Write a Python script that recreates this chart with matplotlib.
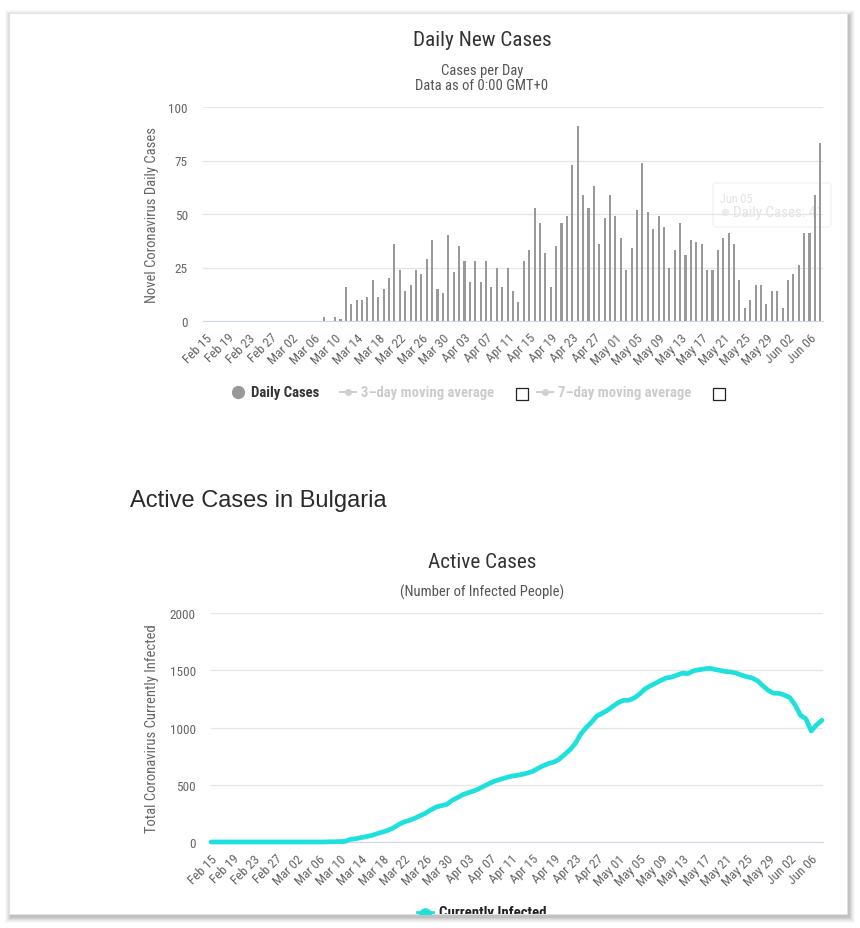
import matplotlib
matplotlib.use("Agg")
import matplotlib.pyplot as plt
from matplotlib.patches import Rectangle, FancyBboxPatch
import pandas as pd

# ---------------- data ----------------
start_date = "2020-02-15"
n_days = 115
dates = [d.strftime("%b %d") for d in pd.date_range(start_date, periods=n_days, freq="D")]

daily_cases = [0] * 22 + [
    2, 0, 2, 1, 16, 8, 10, 10, 11, 19, 11, 15, 20, 36, 24, 14, 17, 24, 22, 29,
    38, 15, 13, 40, 23, 35, 28, 18, 28, 18, 28, 16, 25, 16, 25, 14, 9, 28, 33, 53,
    46, 32, 16, 35, 46, 49, 73, 91, 59, 53, 63, 36, 48, 59, 49, 39, 24, 34, 52, 74,
    51, 43, 49, 44, 25, 33, 46, 31, 38, 37, 36, 24, 24, 33, 39, 41, 36, 19, 6, 10,
    17, 17, 8, 14, 14, 6, 19, 22, 26, 41, 41, 59, 83]

active_cases = [0] * 22 + [
    2, 2, 4, 5, 23, 29, 38, 47, 58, 73, 87, 102, 122, 152, 175, 189, 207, 230, 251, 280,
    306, 318, 329, 364, 388, 414, 431, 446, 466, 490, 513, 534, 548, 562, 575, 582, 591, 602, 617, 643,
    667, 687, 699, 725, 766, 807, 863, 944, 1000, 1047, 1102, 1126, 1152, 1187, 1219, 1240, 1240, 1260, 1295, 1339,
    1366, 1389, 1415, 1435, 1442, 1460, 1477, 1472, 1497, 1506, 1513, 1520, 1509, 1500, 1491, 1487, 1477, 1459, 1445, 1434,
    1409, 1365, 1325, 1301, 1300, 1285, 1263, 1198, 1108, 1078, 971, 1024, 1065]

daily_yticks = [0, 25, 50, 75, 100]
active_yticks = [0, 500, 1000, 1500, 2000]
tooltip_date = "Jun 05"
tooltip_value = 41

# ---------------- layout helpers ----------------
W, H = 860, 929
fig = plt.figure(figsize=(W / 100, H / 100), dpi=100)
fig.patch.set_facecolor("white")

NARROW = ["Roboto Condensed", "Liberation Sans"]
SANS = ["Liberation Sans", "DejaVu Sans"]
NS = dict(family=NARROW, fontstretch="condensed")
TICK_FS = 9.5
TITLE_FS = 15.3
SUB_FS = 10.5
AXLBL_FS = 10.5


def fx(x):
    return x / W


def fy(y):
    return 1 - y / H


def add_axes_px(x0, y0, x1, y1):
    return fig.add_axes([fx(x0), fy(y1), fx(x1) - fx(x0), fy(y0) - fy(y1)])


# card with soft shadow
bg = fig.add_axes([0, 0, 1, 1], zorder=-10)
bg.set_xlim(0, W)
bg.set_ylim(H, 0)
bg.axis("off")
for i, a in enumerate([0.025, 0.03, 0.035, 0.045, 0.055, 0.07]):
    d = 6 - i
    bg.add_patch(Rectangle((9 - d + 2, 14 - d + 3), 838 + 2 * d, 901 + 2 * d,
                           facecolor="#000000", alpha=a, edgecolor="none"))
bg.add_patch(Rectangle((9, 14), 838, 901, facecolor="white", edgecolor="#e0e0e0", lw=0.5))

GRID = "#e6e6e6"
LBL = "#666666"
AXLINE = "#ccd6eb"

# faded tooltip (drawn behind the plot, as in the fading reference)
bg.add_patch(FancyBboxPatch((713, 184), 118, 44, boxstyle="round,pad=0,rounding_size=3",
                            facecolor="white", edgecolor="#f0f0f0", lw=0.8, zorder=5))
bg.text(720, 199, tooltip_date, fontsize=8.8, color="#e3e3e3", va="center", zorder=6, **NS)
bg.plot([725], [213], "o", ms=4.5, color="#ececec", zorder=6)
bg.text(733, 213, f"Daily Cases: {tooltip_value}", fontsize=10.8, color="#e3e3e3",
        va="center", zorder=6, **NS)


def style_axis(ax, yticks, ylabel, label_x):
    ax.patch.set_alpha(0)
    ax.set_yticks(yticks)
    ax.set_yticklabels([str(v) for v in yticks], fontsize=TICK_FS, color=LBL, **NS)
    ax.yaxis.grid(True, color=GRID, lw=0.9, zorder=0)
    ax.set_xticks(list(range(n_days))[::4])
    ax.set_xticklabels(dates[::4], rotation=45, ha="right", rotation_mode="anchor",
                       fontsize=TICK_FS, color=LBL, **NS)
    ax.tick_params(axis="both", length=0)
    ax.tick_params(axis="x", pad=7)
    ax.tick_params(axis="y", pad=11)
    for s in ["top", "right", "left"]:
        ax.spines[s].set_visible(False)
    ax.spines["bottom"].set_color(AXLINE)
    ax.set_ylabel(ylabel, fontsize=AXLBL_FS, color=LBL, **NS)
    ax.yaxis.label.set_va("center")
    ax.yaxis.set_label_coords(label_x, 0.5)
    ax.set_axisbelow(True)


# ---------------- chart 1: daily new cases ----------------
ax1 = add_axes_px(203, 108, 823, 322)
x = list(range(n_days))
ax1.bar(x, daily_cases, width=0.38, color="#999999", zorder=3)
ax1.set_xlim(-0.5, n_days - 0.5)
ax1.set_ylim(0, 100)
style_axis(ax1, daily_yticks, "Novel Coronavirus Daily Cases", (152 - 203) / 620)

fig.text(fx(482), fy(41), "Daily New Cases", fontsize=TITLE_FS, color="#333333",
         ha="center", va="center", **NS)
fig.text(fx(482), fy(71), "Cases per Day", fontsize=SUB_FS, color="#555555",
         ha="center", va="center", **NS)
fig.text(fx(482), fy(86), "Data as of 0:00 GMT+0", fontsize=SUB_FS, color="#555555",
         ha="center", va="center", **NS)

# legend 1
bg.plot([238], [392.5], "o", ms=8.5, color="#999999")
bg.text(251, 393, "Daily Cases", fontsize=10.6, color="#333333", fontweight="bold", va="center", **NS)
bg.plot([340, 356], [393, 393], color="#d0d0d0", lw=1.5)
bg.plot([348], [393], "o", ms=4, color="#d0d0d0")
bg.text(361, 393, "3\u2013day moving average", fontsize=10.6, color="#cccccc",
        fontweight="bold", va="center", **NS)
bg.add_patch(Rectangle((516, 389), 12, 12, facecolor="white", edgecolor="#222222", lw=0.9))
bg.plot([537, 553], [393, 393], color="#d0d0d0", lw=1.5)
bg.plot([545], [393], "o", ms=4, color="#d0d0d0")
bg.text(558, 393, "7\u2013day moving average", fontsize=10.6, color="#cccccc",
        fontweight="bold", va="center", **NS)
bg.add_patch(Rectangle((713, 389), 12, 12, facecolor="white", edgecolor="#222222", lw=0.9))

# ---------------- heading ----------------
fig.text(fx(130), fy(501), "Active Cases in Bulgaria", family=SANS, fontsize=17, color="#2a2a2a",
         ha="left", va="center")

# ---------------- chart 2: active cases ----------------
ax2 = add_axes_px(211, 614.3, 823, 843)
ax2.plot(x, active_cases, color="#1ee0dc", lw=3.4, solid_joinstyle="round",
         solid_capstyle="round", zorder=3, clip_on=False)
ax2.set_xlim(0, n_days - 1 + 0.2)
ax2.set_ylim(0, 2000)
style_axis(ax2, active_yticks, "Total Coronavirus Currently Infected", (152 - 211) / 612)

fig.text(fx(482), fy(562), "Active Cases", fontsize=TITLE_FS, color="#333333",
         ha="center", va="center", **NS)
fig.text(fx(482), fy(592), "(Number of Infected People)", fontsize=SUB_FS,
         color="#555555", ha="center", va="center", **NS)

# legend 2 (cut off by the card's bottom edge, as in the screenshot)
leg_ax = fig.add_axes([fx(9), fy(915), fx(847) - fx(9), fy(895) - fy(915)], zorder=5)
leg_ax.set_xlim(9, 847)
leg_ax.set_ylim(915, 895)
leg_ax.axis("off")
leg_ax.plot([418, 432], [914, 914], color="#1ee0dc", lw=3.4, clip_on=True)
leg_ax.plot([425], [914.5], "o", ms=8, color="#1ee0dc", clip_on=True)
leg_ax.text(439, 917, "Currently Infected", fontsize=10.7, color="#222222",
            fontweight="bold", va="baseline", clip_on=True, **NS)

fig.savefig("out.png", dpi=100, facecolor="white")
